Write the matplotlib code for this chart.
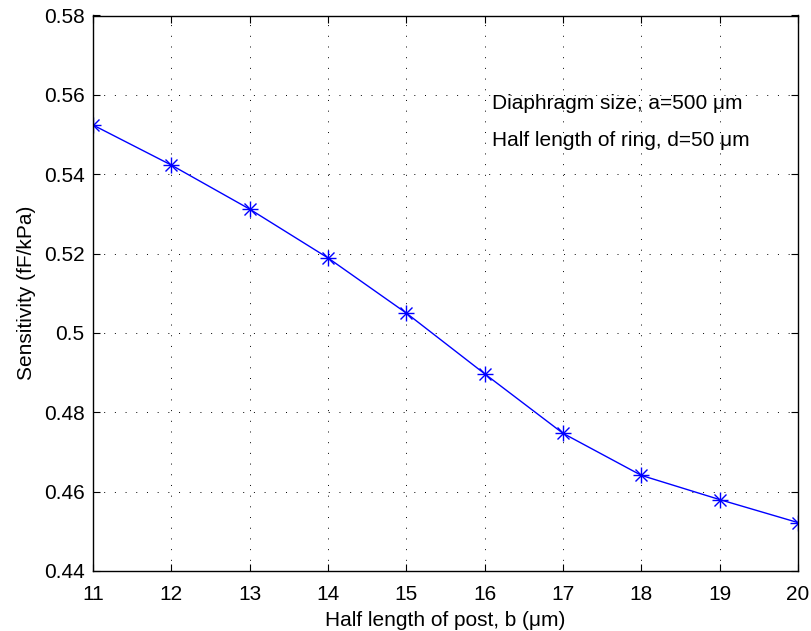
import matplotlib
matplotlib.use("Agg")
import matplotlib.pyplot as plt

plt.rcParams['font.family'] = ['Liberation Sans', 'DejaVu Sans']

b_post = [11, 12, 13, 14, 15, 16, 17, 18, 19, 20]
sensitivity = [0.5524, 0.5423, 0.5312, 0.5189, 0.5050, 0.4897, 0.4747, 0.4641, 0.4580, 0.4522]
yticks = [0.44, 0.46, 0.48, 0.5, 0.52, 0.54, 0.56, 0.58]
ytick_labels = ['0.44', '0.46', '0.48', '0.5', '0.52', '0.54', '0.56', '0.58']
annot_lines = ['Diaphragm size, a=500 μm', 'Half length of ring, d=50 μm']

FS = 15
fig = plt.figure(figsize=(8.11, 6.31), dpi=100)
ax = fig.add_axes([93/811, 1 - 571/631, (798 - 93)/811, (571 - 15.5)/631])

ax.plot(b_post, sensitivity, color='#0000FF', lw=1.0)
ax.plot(b_post, sensitivity, color='#0000FF', lw=0, marker='+', markersize=11,
        markeredgewidth=1.0)
ax.plot(b_post, sensitivity, color='#0000FF', lw=0, marker='x', markersize=8,
        markeredgewidth=1.0)

ax.set_xlim(11, 20)
ax.set_ylim(0.44, 0.58)
ax.set_xticks(b_post)
ax.set_yticks(yticks)
ax.set_yticklabels(ytick_labels)
ax.grid(True, color='black', linestyle=(0, (1, 10)), linewidth=0.7)
ax.tick_params(direction='in', top=True, right=True, labelsize=FS, length=5, width=0.8)
ax.tick_params(axis='x', pad=10)
ax.tick_params(axis='y', pad=6)
for s in ax.spines.values():
    s.set_linewidth(1.0)

ax.set_xlabel('Half length of post, b (μm)', fontsize=FS, labelpad=5)
ax.set_ylabel('Sensitivity (fF/kPa)', fontsize=FS, labelpad=6)

ax.text(16.09, 0.5579, annot_lines[0], fontsize=FS, va='center', ha='left')
ax.text(16.09, 0.5486, annot_lines[1], fontsize=FS, va='center', ha='left')

fig.savefig('out.png', dpi=100)
